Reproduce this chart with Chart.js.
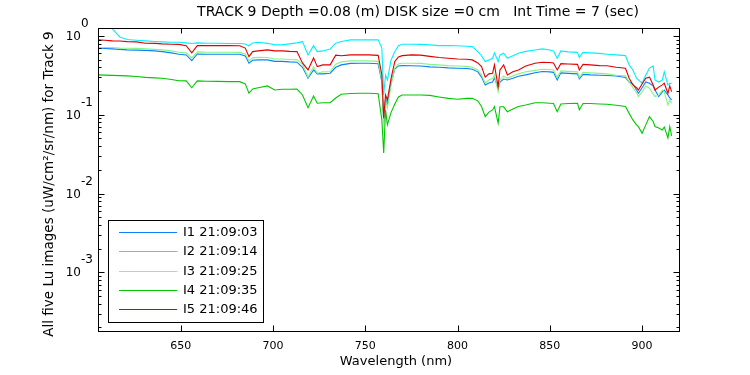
<!DOCTYPE html>
<html>
<head>
<meta charset="utf-8">
<script src="https://cdn.jsdelivr.net/npm/chart.js@4/dist/chart.umd.min.js"></script>
<style>
html,body{margin:0;padding:0;background:#fff;}
canvas{display:block;}
</style>
</head>
<body>
<canvas id="c" width="750" height="375"></canvas>
<script>
// ---- data ----
const wavelengths = [605,609,613,617,621,626,631,636,640,645,
 649,653,656,659,664,670,676,682,685,687,
 689,692,697,701,705,709,713,716,719,722,
 724,727,731,734,737,742,747,752,757,759,
 760,761,762,764,766,768,770,775,780,785,
 790,795,800,805,808,811,813,815,817,819,
 820,822,823,825,827,830,833,837,842,846,
 850,852,854,856,860,865,866,868,872,877,
 881,886,891,893,895,897,898,900,902,904,
 906,907,909,911,912,914,915,916];

const seriesLabels = ["I1 21:09:03","I2 21:09:14","I3 21:09:25","I4 21:09:35","I5 21:09:46"];

const i1Values = [0.698,0.692,0.684,0.674,0.664,0.66,0.655,0.645,0.632,0.609,
 0.586,0.574,0.486,0.59,0.586,0.586,0.586,0.584,0.557,0.45,
 0.49,0.496,0.496,0.475,0.475,0.468,0.464,0.40,0.29,0.37,
 0.33,0.33,0.336,0.40,0.429,0.448,0.45,0.45,0.443,0.26,
 0.081,0.163,0.133,0.253,0.38,0.416,0.42,0.418,0.416,0.405,
 0.40,0.393,0.389,0.386,0.378,0.35,0.30,0.239,0.253,0.26,
 0.293,0.217,0.26,0.284,0.276,0.29,0.307,0.32,0.34,0.353,
 0.35,0.345,0.276,0.34,0.335,0.33,0.284,0.325,0.32,0.317,
 0.315,0.31,0.296,0.26,0.245,0.206,0.187,0.22,0.26,0.251,
 0.232,0.206,0.17,0.195,0.206,0.178,0.163,0.154];

const i2Values = [1.85,1.50,1.23,0.97,0.90,0.88,0.864,0.85,0.84,0.832,
 0.83,0.815,0.80,0.815,0.808,0.808,0.80,0.80,0.79,0.75,
 0.815,0.83,0.805,0.769,0.769,0.792,0.815,0.846,0.574,0.753,
 0.632,0.645,0.684,0.808,0.85,0.89,0.89,0.89,0.89,0.70,
 0.178,0.32,0.276,0.496,0.63,0.75,0.785,0.785,0.78,0.769,
 0.753,0.757,0.75,0.74,0.731,0.632,0.56,0.472,0.496,0.521,
 0.609,0.472,0.574,0.603,0.521,0.56,0.603,0.636,0.664,0.684,
 0.664,0.645,0.521,0.645,0.627,0.618,0.531,0.618,0.609,0.60,
 0.586,0.574,0.562,0.429,0.37,0.29,0.276,0.251,0.32,0.39,
 0.416,0.276,0.26,0.276,0.35,0.239,0.251,0.25];

const i3Values = [0.71,0.714,0.712,0.70,0.698,0.694,0.684,0.674,0.664,0.645,
 0.621,0.609,0.526,0.627,0.621,0.621,0.621,0.618,0.59,0.482,
 0.526,0.534,0.531,0.51,0.51,0.503,0.496,0.44,0.30,0.408,
 0.336,0.35,0.353,0.438,0.468,0.482,0.482,0.482,0.475,0.276,
 0.0743,0.154,0.122,0.239,0.39,0.44,0.45,0.45,0.448,0.435,
 0.429,0.42,0.416,0.41,0.401,0.37,0.32,0.251,0.276,0.29,
 0.32,0.196,0.276,0.311,0.29,0.311,0.33,0.35,0.365,0.378,
 0.375,0.37,0.296,0.36,0.355,0.35,0.296,0.345,0.34,0.335,
 0.33,0.317,0.311,0.26,0.22,0.19,0.17,0.195,0.232,0.217,
 0.184,0.17,0.178,0.206,0.195,0.133,0.154,0.14];

const i4Values = [0.32,0.318,0.316,0.313,0.311,0.306,0.298,0.293,0.29,0.28,
 0.27,0.269,0.22,0.269,0.266,0.265,0.263,0.263,0.246,0.187,
 0.212,0.22,0.232,0.206,0.21,0.21,0.211,0.178,0.123,0.173,
 0.14,0.142,0.142,0.163,0.182,0.186,0.187,0.187,0.185,0.0859,
 0.0327,0.115,0.0743,0.107,0.137,0.168,0.178,0.178,0.178,0.176,
 0.168,0.161,0.157,0.161,0.162,0.15,0.127,0.0946,0.108,0.115,
 0.127,0.078,0.126,0.126,0.109,0.118,0.127,0.133,0.142,0.142,
 0.14,0.139,0.109,0.137,0.139,0.14,0.115,0.139,0.139,0.137,
 0.136,0.132,0.127,0.104,0.0859,0.0743,0.0706,0.0582,0.0743,0.0946,
 0.082,0.0706,0.068,0.0641,0.07,0.0508,0.0706,0.0538];

const i5Values = [0.89,0.88,0.864,0.86,0.847,0.84,0.808,0.805,0.792,0.785,
 0.78,0.75,0.609,0.753,0.753,0.756,0.753,0.75,0.70,0.546,
 0.632,0.645,0.664,0.645,0.645,0.636,0.632,0.454,0.37,0.526,
 0.408,0.429,0.429,0.57,0.56,0.574,0.574,0.574,0.566,0.32,
 0.09,0.178,0.154,0.29,0.472,0.54,0.562,0.574,0.57,0.55,
 0.531,0.521,0.51,0.505,0.496,0.454,0.408,0.30,0.33,0.336,
 0.429,0.227,0.37,0.429,0.32,0.35,0.37,0.416,0.45,0.464,
 0.46,0.454,0.37,0.445,0.44,0.435,0.37,0.435,0.429,0.42,
 0.418,0.40,0.389,0.29,0.239,0.22,0.206,0.245,0.29,0.30,
 0.239,0.206,0.224,0.239,0.251,0.187,0.232,0.196];

const xTickValues = [650,700,750,800,850,900];
const yDecades = [0,-1,-2,-3];

const titleText = "TRACK 9 Depth =0.08 (m) DISK size =0 cm   Int Time = 7 (sec)";
const xTitle = "Wavelength (nm)";
const yTitle = "All five Lu images (uW/cm\u00B2/sr/nm) for Track 9";

// ---- styles ----
const colors = ["#0a80ff","#00f0ff","#86f586","#00c800","#e00000"];
const FONT = "'DejaVu Sans', sans-serif";

const allValues = [i1Values,i2Values,i3Values,i4Values,i5Values];
const datasets = allValues.map((vals,k)=>({
  label: seriesLabels[k],
  data: wavelengths.map((w,j)=>({x:w,y:vals[j]})),
  borderColor: colors[k],
  backgroundColor: colors[k],
  borderWidth: 1.1,
  pointRadius: 0,
  tension: 0,
  fill: false,
  order: 5-k
}));

const decor = {
  id:'decor',
  afterDraw(chart){
    const ctx = chart.ctx, a = chart.chartArea, xs = chart.scales.x, ys = chart.scales.y;
    ctx.save();
    ctx.strokeStyle = '#000';
    ctx.lineWidth = 1;
    const L = Math.round(a.left)+0.5, R = Math.round(a.right)+0.5;
    const T = Math.round(a.top)+0.5, B = Math.round(a.bottom)+0.5;
    ctx.strokeRect(L, T, R-L, B-T);
    ctx.beginPath();
    // x ticks (bottom & top, inward)
    xTickValues.forEach(v=>{
      const px = Math.round(xs.getPixelForValue(v))+0.5;
      ctx.moveTo(px,B); ctx.lineTo(px,B-6);
      ctx.moveTo(px,T); ctx.lineTo(px,T+5);
    });
    // y ticks log (left & right, inward)
    for (let e=-4;e<=0;e++){
      for (let m=1;m<=9;m++){
        const v = m*Math.pow(10,e);
        if (v < ys.min || v > ys.max) continue;
        const py = Math.round(ys.getPixelForValue(v))+0.5;
        const len = m===1 ? 6 : 3;
        ctx.moveTo(L,py); ctx.lineTo(L+len,py);
        ctx.moveTo(R,py); ctx.lineTo(R-len,py);
      }
    }
    ctx.stroke();

    ctx.fillStyle = '#000';
    // y tick labels 10^e
    ctx.font = "12px "+FONT;
    yDecades.forEach(e=>{
      const py = ys.getPixelForValue(Math.pow(10,e));
      ctx.textAlign='right'; ctx.textBaseline='middle';
      ctx.fillText("10", 81, py+1);
      ctx.textAlign='left';
      ctx.fillText(e===0 ? "0" : "-"+(-e), 81, py-12);
    });

    // title
    ctx.font = "14px "+FONT;
    ctx.textAlign='center'; ctx.textBaseline='middle';
    ctx.fillText(titleText, 418, 12);

    // x title
    ctx.font = "13px "+FONT;
    ctx.fillText(xTitle, 396, 362);

    // y title
    ctx.save();
    ctx.font = "13.5px "+FONT;
    ctx.translate(49, 184);
    ctx.rotate(-Math.PI/2);
    ctx.fillText(yTitle, 0, 0);
    ctx.restore();

    // legend
    const lx=108.5, ly=220.5, lw=155, lh=102;
    ctx.fillStyle='#fff';
    ctx.fillRect(lx,ly,lw,lh);
    ctx.strokeRect(lx,ly,lw,lh);
    ctx.font = "13px "+FONT;
    ctx.textAlign='left'; ctx.textBaseline='middle';
    chart.data.datasets.forEach((ds,k)=>{
      const yy = Math.round(232 + k*19.35)+0.5;
      ctx.strokeStyle = ds.borderColor;
      ctx.beginPath(); ctx.moveTo(119,yy); ctx.lineTo(177,yy); ctx.stroke();
      ctx.fillStyle='#000';
      ctx.fillText(ds.label, 183, yy);
    });
    ctx.restore();
  }
};

new Chart(document.getElementById('c'), {
  type:'line',
  data:{ datasets },
  options:{
    responsive:false,
    animation:false,
    events:[],
    layout:{ padding:{ top:28, right:71, left:0, bottom:0 } },
    plugins:{ legend:{display:false}, tooltip:{enabled:false}, title:{display:false} },
    scales:{
      x:{
        type:'linear', min:605.2, max:920,
        grid:{display:false, drawTicks:false},
        border:{display:false},
        ticks:{ stepSize:50, includeBounds:false, color:'#000', padding:9, maxRotation:0,
                font:{family:FONT, size:11} },
        afterFit(s){ s.height = 44; }
      },
      y:{
        type:'logarithmic', min:1.8e-4, max:1.26,
        grid:{display:false, drawTicks:false},
        border:{display:false},
        ticks:{display:false},
        afterFit(s){ s.width = 98; }
      }
    }
  },
  plugins:[decor]
});
</script>
</body>
</html>
